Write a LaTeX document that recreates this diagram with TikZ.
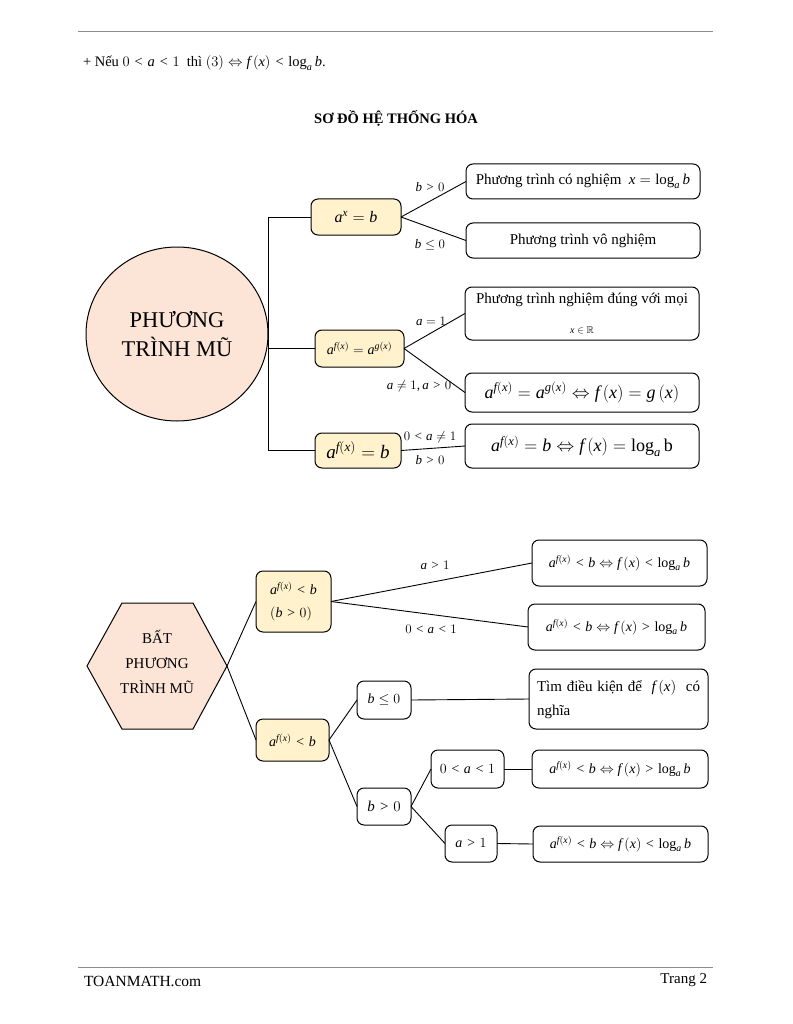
\RequirePackage{fix-cm}
\documentclass[tikz,border=0pt]{standalone}
\usepackage{amssymb}
\usepackage{fontspec}
\setmainfont{Liberation Serif}
\newfontfamily\libfam{Liberation Serif}[NFSSFamily=libser]
\DeclareSymbolFont{letters}{TU}{libser}{m}{it}
\DeclareSymbolFont{operators}{TU}{libser}{m}{n}
\DeclareMathSymbol{,}{\mathpunct}{operators}{"2C}
\DeclareMathSymbol{.}{\mathord}{operators}{"2E}
\usetikzlibrary{shapes.geometric}
\definecolor{pinkf}{HTML}{FCE4D6}
\definecolor{yelf}{HTML}{FFF2CC}
\definecolor{rulegray}{HTML}{8C8C8C}
\newcommand{\fs}[2]{\fontsize{#1}{#2}\selectfont}
\begin{document}
\begin{tikzpicture}[x=1pt,y=-1pt,
  every node/.style={font=\fs{15}{18}, inner sep=0pt, outer sep=0pt},
  bx/.style={draw, line width=1pt, rounded corners=7pt, align=center, fill=white},
  yb/.style={bx, fill=yelf},
  ln/.style={line width=0.9pt},
  lbl/.style={font=\fs{13}{15}}
]
\useasboundingbox (0,0) rectangle (792,1024);
% header / footer rules
\draw[rulegray, line width=0.8pt] (78,31) -- (713,31);
\draw[rulegray, line width=0.8pt] (78,967) -- (713,967);
\node[anchor=west, font=\fs{14.5}{17}] (top) at (83,63) {+ Nếu $0<a<1$\ \ thì $\left(3\right)\Leftrightarrow f\left(x\right)<\log_a b.$};
\node[font=\bfseries\fs{14.5}{17}] (title) at (396,118) {SƠ ĐỒ HỆ THỐNG HÓA};
\node[anchor=west, font=\fs{15.5}{18}] (foot1) at (84,981) {TOANMATH.com};
\node[anchor=east, font=\fs{15}{18}] (foot2) at (707,980) {Trang 2};

% ---------------- Part 1 ----------------
\node[draw, ellipse, line width=1pt, fill=pinkf, minimum width=182, minimum height=174,
      align=center, font=\fs{22.5}{29}] (pt) at (177,334) {PHƯƠNG\\TRÌNH MŨ};

\node[yb, minimum width=90, minimum height=36, font=\fs{16}{18}] (eq1) at (356,217) {$a^x=b$};
\node[yb, minimum width=89, minimum height=37, font=\fs{14}{18}] (eq2) at (359.5,348.5) {$a^{f(x)}=a^{g(x)}$};
\node[yb, minimum width=86, minimum height=35, font=\fs{19}{22}] (eq3) at (358,450.5) {$a^{f(x)}=b$};

\node[bx, minimum width=234, minimum height=35] (r1) at (583,181.5) {Phương trình có nghiệm\ \ $x=\log_a b$};
\node[bx, minimum width=234, minimum height=35] (r2) at (583,240.5) {Phương trình vô nghiệm};
\node[bx, minimum width=234, minimum height=53, font=\fs{15}{30}] (r3) at (582,313.5) {Phương trình nghiệm đúng với mọi\\{\fs{10}{10}$x\in\mathbb{R}$}};
\node[bx, minimum width=234, minimum height=39, font=\fs{18}{22}] (r4) at (582,392.5) {$a^{f(x)}=a^{g(x)}\Leftrightarrow f\left(x\right)=g\left(x\right)$};
\node[bx, minimum width=234, minimum height=44, font=\fs{18}{22}] (r5) at (582,446) {$a^{f(x)}=b\Leftrightarrow f\left(x\right)=\log_a\mathrm{b}$};

\coordinate (tk) at (268,334);
\draw[ln] (eq1.west) -- (eq1.west -| tk) -- (eq3.west -| tk) -- (eq3.west);
\draw[ln] (eq2.west) -- (eq2.west -| tk);

\draw[ln] (eq1.east) -- (r1.west);
\draw[ln] (eq1.east) -- (r2.west);
\draw[ln] (eq2.east) -- (r3.west);
\draw[ln] (eq2.east) -- (r4.west);
\draw[ln] (eq3.east) -- (r5.west);

\node[lbl] (l1) at (430,187) {$b>0$};
\node[lbl] (l2) at (430,245) {$b\le 0$};
\node[lbl] (l3) at (431,321) {$a=1$};
\node[lbl] (l4) at (419,386) {$a\ne 1, a>0$};
\node[lbl] (l5) at (430,437) {$0<a\ne 1$};
\node[lbl] (l6) at (430,460) {$b>0$};

% ---------------- Part 2 ----------------
\draw[line width=1pt, fill=pinkf] (87,666) -- (122,603) -- (193,603) -- (227,666) -- (193,729) -- (122,729) -- cycle;
\coordinate (hexR) at (227,666);
\node[align=center, font=\fs{15}{25}] (bpt) at (157,662) {BẤT\\PHƯƠNG\\TRÌNH MŨ};

\node[yb, minimum width=75, minimum height=61, align=left, font=\fs{14}{23}] (b1) at (293.5,601.5) {$a^{f(x)}<b$\\$\left(b>0\right)$};
\node[yb, minimum width=73, minimum height=42, font=\fs{14}{18}] (b2) at (292.5,740) {$a^{f(x)}<b$};

\node[bx, minimum width=175, minimum height=46, font=\fs{14}{18}] (br1) at (619.5,563) {$a^{f(x)}<b\Leftrightarrow f\left(x\right)<\log_a b$};
\node[bx, minimum width=177, minimum height=46, font=\fs{14}{18}] (br2) at (616.5,627) {$a^{f(x)}<b\Leftrightarrow f\left(x\right)>\log_a b$};

\node[bx, minimum width=54, minimum height=38, font=\fs{14}{16}] (c1) at (384,700) {$b\le 0$};
\node[bx, minimum width=54, minimum height=37, font=\fs{15}{16}] (c2) at (384,806.5) {$b>0$};
\node[bx, minimum width=179, minimum height=60, text width=163, align=justify, font=\fs{15}{24}] (d1) at (618.5,699) {Tìm điều kiện để\ \ $f\left(x\right)$\ \ có nghĩa};
\node[bx, minimum width=73, minimum height=38, font=\fs{14}{16}] (e1) at (467.5,769) {$0<a<1$};
\node[bx, minimum width=52, minimum height=37, font=\fs{14}{16}] (e2) at (471,843.5) {$a>1$};
\node[bx, minimum width=176, minimum height=38, font=\fs{14}{18}] (f1) at (620,769) {$a^{f(x)}<b\Leftrightarrow f\left(x\right)>\log_a b$};
\node[bx, minimum width=175, minimum height=36, font=\fs{14}{18}] (f2) at (620.5,844) {$a^{f(x)}<b\Leftrightarrow f\left(x\right)<\log_a b$};

\draw[ln] (hexR) -- (b1.west);
\draw[ln] (hexR) -- (b2.west);
\draw[ln] (b1.east) -- (br1.west);
\draw[ln] (b1.east) -- (br2.west);
\draw[ln] (b2.east) -- (c1.west);
\draw[ln] (b2.east) -- (c2.west);
\draw[ln] (c1.east) -- (d1.west);
\draw[ln] (c2.east) -- (e1.west);
\draw[ln] (c2.east) -- (e2.west);
\draw[ln] (e1.east) -- (f1.west);
\draw[ln] (e2.east) -- (f2.west);

\node[lbl] (m1) at (435,565) {$a>1$};
\node[lbl] (m2) at (431,629) {$0<a<1$};
\end{tikzpicture}
\end{document}
